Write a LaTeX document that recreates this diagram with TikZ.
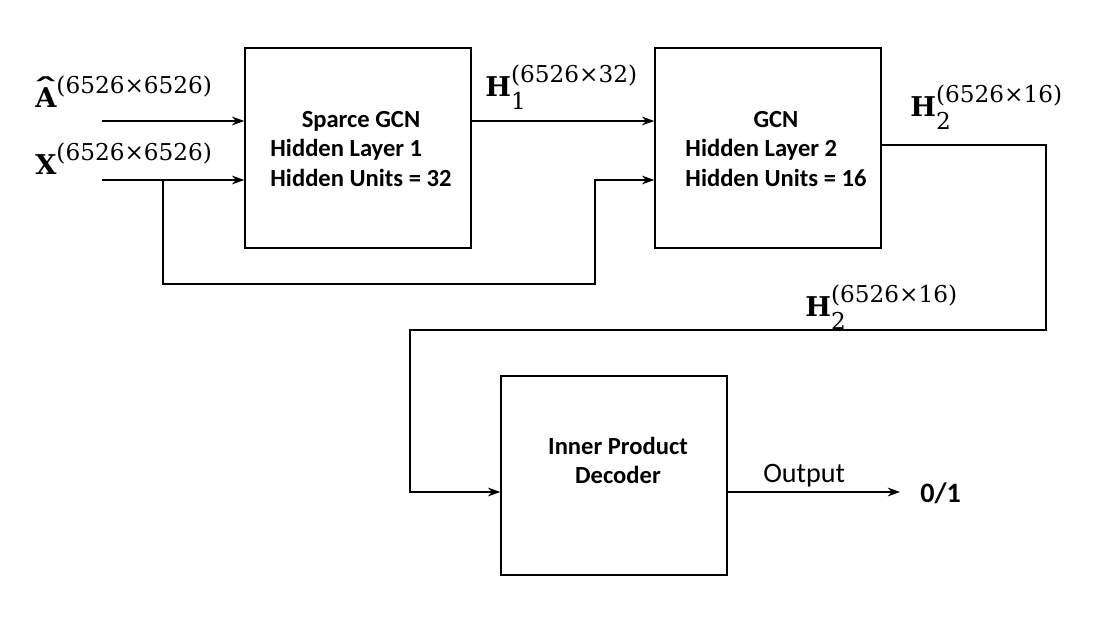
\documentclass[tikz,border=0pt]{standalone}
\usepackage{fontspec}
\usepackage{graphicx}
\usetikzlibrary{arrows.meta}
\newfontfamily\lblfont{DejaVu Serif}
\newfontfamily\boxfont{Carlito}
\newcommand{\supsz}{\lblfont\mdseries\fontsize{13.2}{13.2}\selectfont}
\newcommand{\sslbl}[3]{#1\rlap{\raisebox{8pt}{\supsz #3}}\raisebox{-7.4pt}{\supsz #2}}
\newcommand{\hatA}{\ooalign{A\cr\hidewidth\raisebox{5.2pt}{\scalebox{1.9}[1]{ˆ}}\hidewidth\cr}}
\tikzset{
  blk/.style={draw, line width=0.9pt, rectangle, inner sep=0pt, minimum width=4.52cm, minimum height=4cm},
  blktxt/.style={inner sep=0pt, font=\boxfont\bfseries\fontsize{14}{17}\selectfont, align=center},
  lbl/.style={anchor=base west, inner sep=0pt, font=\lblfont\bfseries\fontsize{15.5}{18}\selectfont},
  arr/.style={line width=0.6pt, -{Stealth[length=7pt,width=5pt]}}
}
\begin{document}
\begin{tikzpicture}[x=0.02cm, y=-0.02cm]
\useasboundingbox (0,0) rectangle (1117,617);
% blocks
\node[blk] (box1) at (358,148) {};
\node[blk] (box2) at (768,148) {};
\node[blk, minimum height=3.98cm] (box3) at (614,475.5) {};
\node[blktxt] (t1) at (361,151) {\begin{tabular}{@{}l@{}}\multicolumn{1}{@{}c@{}}{Sparce GCN}\\Hidden Layer 1\\Hidden Units = 32\end{tabular}};
\node[blktxt] (t2) at (776,151) {\begin{tabular}{@{}l@{}}\multicolumn{1}{@{}c@{}}{GCN}\\Hidden Layer 2\\Hidden Units = 16\end{tabular}};
\node[blktxt] (t3) at (618,463) {\begin{tabular}{@{}c@{}}Inner Product\\Decoder\end{tabular}};
% labels
\node[lbl] (la) at (35,108) {\sslbl{\hatA}{}{(6526×6526)}};
\node[lbl] (lx) at (35,175) {\sslbl{X}{}{(6526×6526)}};
\node[lbl] (lh1) at (485,97) {\sslbl{H}{1}{(6526×32)}};
\node[lbl] (lh2a) at (910,117) {\sslbl{H}{2}{(6526×16)}};
\node[lbl] (lh2b) at (805,317) {\sslbl{H}{2}{(6526×16)}};
\node[anchor=base west, inner sep=0pt, font=\boxfont\fontsize{16}{18}\selectfont] (out) at (763,483) {Output};
\node[anchor=base west, inner sep=0pt, font=\boxfont\bfseries\fontsize{16}{18}\selectfont] (res) at (920,503) {0/1};
% connectors
\coordinate (ain) at (102,121);
\coordinate (xin) at (102,180);
\coordinate (br) at (163,180);
\coordinate (b1) at (163,284);
\coordinate (b2) at (595,284);
\coordinate (b3) at (595,180);
\coordinate (h1) at (471,121);
\coordinate (h2) at (881,145);
\coordinate (c1) at (1046,145);
\coordinate (c2) at (1046,330);
\coordinate (c3) at (410,330);
\coordinate (c4) at (410,492);
\coordinate (o) at (727,492);
\coordinate (oe) at (900,492);
\draw[arr] (ain) -- (ain -| box1.west);
\draw[arr] (xin) -- (xin -| box1.west);
\draw[arr] (br) -- (b1) -- (b2) -- (b3) -- (b3 -| box2.west);
\draw[arr] (h1) -- (h1 -| box2.west);
\draw[arr] (h2) -- (c1) -- (c2) -- (c3) -- (c4) -- (c4 -| box3.west);
\draw[arr] (o) -- (oe);
\end{tikzpicture}
\end{document}
